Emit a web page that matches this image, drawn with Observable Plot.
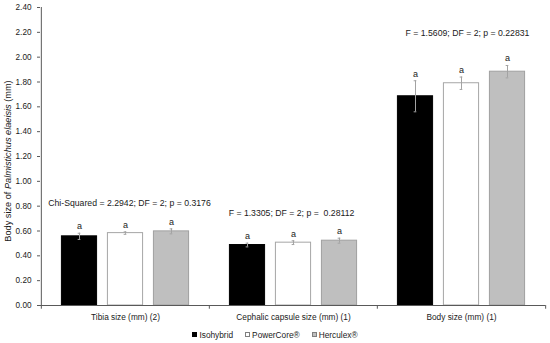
<!DOCTYPE html>
<html>
<head>
<meta charset="utf-8">
<script src="https://cdn.jsdelivr.net/npm/d3@7"></script>
<script src="https://cdn.jsdelivr.net/npm/@observablehq/plot@0.6"></script>
<style>
  html, body { margin: 0; padding: 0; background: #fff; }
  #chart { width: 550px; height: 343px; overflow: hidden; font-family: "Liberation Sans", Arial, sans-serif; }
  .legend { height: 17px; display: flex; justify-content: center; align-items: center; font-size: 8.3px; color: #1a1a1a; padding-left: 0px; }
  .legend .item { display: flex; align-items: center; margin: 0 6px; }
  .legend .sw { width: 5px; height: 5px; margin-right: 2px; box-sizing: border-box; }
</style>
</head>
<body>
<div id="chart"></div>
<script>
// ---- data ----
const groups = ["Tibia size (mm) (2)", "Cephalic capsule size (mm) (1)", "Body size (mm) (1)"];
const series = ["Isohybrid", "PowerCore®", "Herculex®"];
const isohybrid = [0.557, 0.487, 1.685];
const powercore = [0.583, 0.506, 1.790];
const herculex  = [0.597, 0.522, 1.883];
const isohybridErr = [0.025, 0.015, 0.125];
const powercoreErr = [0.010, 0.015, 0.050];
const herculexErr  = [0.020, 0.020, 0.050];
const letters = [["a", "a", "a"], ["a", "a", "a"], ["a", "a", "a"]];
const statTexts = [
  "Chi-Squared = 2.2942; DF = 2; p = 0.3176",
  "F = 1.3305; DF = 2; p =  0.28112",
  "F = 1.5609; DF = 2; p = 0.22831"
];
const statY = [0.82, 0.74, 2.19];
const yTicks = [0, 0.2, 0.4, 0.6, 0.8, 1.0, 1.2, 1.4, 1.6, 1.8, 2.0, 2.2, 2.4];

// ---- layout/style ----
const W = 550, H = 326;
const mL = 40, mR = 5, mT = 7, mB = 21;
const bw = (W - mL - mR) / groups.length;
const barW = 35.5;
const offsets = [-46, 0, 46];
const fills = ["#000000", "#ffffff", "#bfbfbf"];
const strokes = ["#000000", "#a6a6a6", "#a0a0a0"];
const errColor = "#a3a3a3";
const font = "Liberation Sans, Arial, sans-serif";
const textColor = "#1a1a1a";

const vals = [isohybrid, powercore, herculex];
const errs = [isohybridErr, powercoreErr, herculexErr];

const marks = [];
series.forEach((s, i) => {
  const rows = groups.map((g, j) => ({group: g, value: vals[i][j], err: errs[i][j], letter: letters[j][i]}));
  const inL = bw / 2 + offsets[i] - barW / 2;
  const inR = bw / 2 - offsets[i] - barW / 2;
  marks.push(Plot.barY(rows, {x: "group", y: "value", fill: fills[i], stroke: strokes[i], strokeWidth: 1, insetLeft: inL, insetRight: inR}));
  marks.push(Plot.ruleX(rows, {x: "group", y1: d => d.value - d.err, y2: d => d.value + d.err, dx: offsets[i], stroke: errColor, strokeWidth: 1}));
  marks.push(Plot.tickY(rows, {x: "group", y: d => d.value + d.err, stroke: errColor, insetLeft: bw / 2 + offsets[i] - 1.5, insetRight: bw / 2 - offsets[i] - 1.5}));
  marks.push(Plot.tickY(rows, {x: "group", y: d => d.value - d.err, stroke: errColor, insetLeft: bw / 2 + offsets[i] - 1.5, insetRight: bw / 2 - offsets[i] - 1.5}));
  marks.push(Plot.text(rows, {x: "group", y: d => d.value + d.err, text: "letter", dx: offsets[i], dy: -7, fontSize: 9, fill: textColor}));
});

const statRows = groups.map((g, j) => ({group: g, y: statY[j], text: statTexts[j]}));
const statDx = [4, -2, 6];
statRows.forEach((r, j) => {
  marks.push(Plot.text([r], {x: "group", y: "y", text: "text", dx: statDx[j], fontSize: 8.7, fill: textColor}));
});

// axes
marks.push(Plot.axisY({ticks: yTicks, tickFormat: d3.format(".2f"), tickSize: 3, tickPadding: 6, label: null, fontSize: 8.2, stroke: "#595959", color: textColor}));
marks.push(Plot.axisX({tickSize: 0, tickPadding: 8.5, label: null, fontSize: 8.3, color: textColor}));
// axis lines
marks.push(Plot.ruleY([0], {stroke: "#595959", strokeWidth: 1.2}));
marks.push(Plot.ruleX([groups[0]], {dx: -bw / 2, y1: 0, y2: 2.4, stroke: "#595959", strokeWidth: 1}));
// boundary ticks on the category axis
marks.push(Plot.ruleX(groups, {dx: -bw / 2, y1: 0, y2: -0.03, stroke: "#595959"}));
marks.push(Plot.ruleX([groups[groups.length - 1]], {dx: bw / 2, y1: 0, y2: -0.03, stroke: "#595959"}));

const plot = Plot.plot({
  width: W, height: H,
  marginLeft: mL, marginRight: mR, marginTop: mT, marginBottom: mB,
  style: {fontFamily: font, fontSize: "8px", background: "#fff", color: textColor},
  x: {type: "band", domain: groups, padding: 0, axis: null},
  y: {domain: [0, 2.4], axis: null},
  marks
});

const svg = d3.select(plot);
const lab = svg.append("text")
  .attr("transform", `translate(9,${(mT + H - mB) / 2 + 5}) rotate(-90)`)
  .attr("text-anchor", "middle")
  .attr("dominant-baseline", "middle")
  .attr("font-size", 9.2)
  .attr("font-family", font)
  .attr("fill", textColor);
lab.append("tspan").text("Body size of ");
lab.append("tspan").attr("font-style", "italic").text("Palmistichus elaeisis");
lab.append("tspan").text(" (mm)");

const chart = document.getElementById("chart");
chart.appendChild(plot);

const legend = document.createElement("div");
legend.className = "legend";
series.forEach((s, i) => {
  const item = document.createElement("div");
  item.className = "item";
  const sw = document.createElement("span");
  sw.className = "sw";
  sw.style.background = fills[i];
  sw.style.border = `1px solid ${i === 0 ? "#000" : "#7f7f7f"}`;
  const t = document.createElement("span");
  t.textContent = s;
  item.appendChild(sw);
  item.appendChild(t);
  legend.appendChild(item);
});
chart.appendChild(legend);
</script>
</body>
</html>
